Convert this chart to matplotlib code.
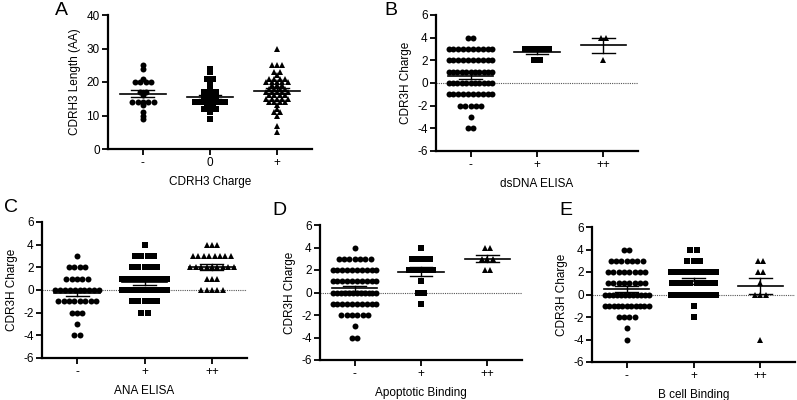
import numpy as np
import matplotlib
matplotlib.use("Agg")
import matplotlib.pyplot as plt

plt.rcParams['font.family'] = ['Liberation Sans', 'DejaVu Sans']
plt.rcParams['axes.unicode_minus'] = False

# ---- data ----
# panel A: CDRH3 length by CDRH3 charge
a_labels = ['-', '0', '+']
a_neg = [25, 24, 21, 20, 20, 20, 20, 17, 17, 16, 14, 14, 14, 14, 14, 13, 11, 10, 9]
a_zero = [24, 23, 21, 21, 19, 18, 17, 17, 17, 16, 16, 15, 15, 15, 14, 14, 14, 14, 14, 14,
          13, 13, 12, 12, 12, 11, 9]
a_pos = [30, 25, 25, 25, 23, 23, 22, 21, 21, 21, 21, 20, 20, 20, 20, 20, 19, 19, 19,
         18, 18, 18, 18, 17, 17, 17, 17, 17, 16, 16, 16, 16, 15, 15, 15, 15, 15,
         14, 14, 14, 14, 13, 12, 11, 11, 10, 7, 5]

# panels B-E: CDR3H charge, stored as value levels and counts per level
charge_levels = [4, 3, 2, 1, 0, -1, -2, -3, -4]
grp_labels = ['-', '+', '++']

b_neg = [2, 10, 10, 11, 11, 10, 5, 1, 2]
b_pos = [0, 5, 2, 0, 0, 0, 0, 0, 0]
b_pp = [2, 0, 1, 0, 0, 0, 0, 0, 0]

c_neg = [0, 1, 4, 5, 10, 8, 3, 1, 2]
c_pos = [1, 4, 5, 10, 12, 5, 2, 0, 0]
c_pp = [3, 8, 9, 3, 5, 0, 0, 0, 0]

d_neg = [1, 7, 10, 10, 12, 10, 6, 1, 2]
d_pos = [1, 4, 5, 1, 2, 1, 0, 0, 0]
d_pp = [2, 3, 2, 0, 0, 0, 0, 0, 0]

e_neg = [2, 7, 8, 8, 12, 11, 4, 1, 1]
e_pos = [2, 3, 10, 8, 10, 1, 1, 0, 0]
e_pp = [0, 2, 2, 1, 3, 0, 0, 0, 1]

markers = ['o', 's', '^']


def expand(counts):
    vals = []
    for v, n in zip(charge_levels, counts):
        vals += [v] * n
    return vals


def spread(vals, step=0.08, maxhalf=0.33):
    vals = np.array(vals, dtype=float)
    xs = np.zeros(len(vals))
    for v in np.unique(vals):
        idx = np.where(vals == v)[0]
        n = len(idx)
        s = step
        if n > 1 and (n - 1) * s / 2 > maxhalf:
            s = 2 * maxhalf / (n - 1)
        xs[idx] = (np.arange(n) - (n - 1) / 2) * s
    return xs


def scatter_panel(ax, groups, labels, xlabel, ylabel, ylim, yticks, zero_line):
    for i, vals in enumerate(groups):
        step = 0.09 if markers[i] == 's' else 0.08
        xs = spread(vals, step) + i
        ms = {'o': 4.3, 's': 3.9, '^': 4.3}[markers[i]]
        ax.plot(xs, vals, ls='none', marker=markers[i], color='black', ms=ms, mew=0)
        vals = np.array(vals, dtype=float)
        m = vals.mean()
        sem = vals.std(ddof=1) / np.sqrt(len(vals))
        ax.plot([i - 0.34, i + 0.34], [m, m], color='black', lw=1.2, zorder=4)
        ax.plot([i, i], [m - sem, m + sem], color='black', lw=1.0, zorder=4)
        for y in (m - sem, m + sem):
            ax.plot([i - 0.17, i + 0.17], [y, y], color='black', lw=1.0, zorder=4)
    if zero_line:
        ax.axhline(0, color='#555555', ls=(0, (1, 1)), lw=0.8, zorder=1)
    ax.set_xlim(-0.52, 2.52)
    ax.set_ylim(*ylim)
    ax.set_yticks(yticks)
    ax.set_xticks([0, 1, 2])
    ax.set_xticklabels(labels)
    ax.set_xlabel(xlabel, fontsize=8.5, labelpad=5)
    ax.set_ylabel(ylabel, fontsize=8.5, labelpad=4)
    for s in ('top', 'right'):
        ax.spines[s].set_visible(False)
    for s in ('left', 'bottom'):
        ax.spines[s].set_linewidth(1.6)
    ax.tick_params(axis='both', length=4, width=1.3, labelsize=8.5, pad=2)


W, H = 797, 400
fig = plt.figure(figsize=(W / 100, H / 100), dpi=100)


def add_ax(x0, y0, x1, y1):
    return fig.add_axes([x0 / W, 1 - y1 / H, (x1 - x0) / W, (y1 - y0) / H])


axA = add_ax(108, 15, 312, 149)
axB = add_ax(436, 15, 638, 151)
axC = add_ax(42, 222, 247, 358)
axD = add_ax(320, 225, 522, 360)
axE = add_ax(592, 227, 795, 362)

scatter_panel(axA, [a_neg, a_zero, a_pos], a_labels, 'CDRH3 Charge', 'CDRH3 Length (AA)',
              (0, 40), [0, 10, 20, 30, 40], False)
scatter_panel(axB, [expand(b_neg), expand(b_pos), expand(b_pp)], grp_labels, 'dsDNA ELISA',
              'CDR3H Charge', (-6, 6), [-6, -4, -2, 0, 2, 4, 6], True)
scatter_panel(axC, [expand(c_neg), expand(c_pos), expand(c_pp)], grp_labels, 'ANA ELISA',
              'CDR3H Charge', (-6, 6), [-6, -4, -2, 0, 2, 4, 6], True)
scatter_panel(axD, [expand(d_neg), expand(d_pos), expand(d_pp)], grp_labels, 'Apoptotic Binding',
              'CDR3H Charge', (-6, 6), [-6, -4, -2, 0, 2, 4, 6], True)
scatter_panel(axE, [expand(e_neg), expand(e_pos), expand(e_pp)], grp_labels, 'B cell Binding',
              'CDR3H Charge', (-6, 6), [-6, -4, -2, 0, 2, 4, 6], True)

for letter, x, y in [('A', 55, 2), ('B', 384, 2), ('C', 4, 199), ('D', 272, 202), ('E', 559, 202)]:
    fig.text(x / W, 1 - y / H, letter, fontsize=14, va='top', ha='left')

fig.savefig('out.png', dpi=100)
